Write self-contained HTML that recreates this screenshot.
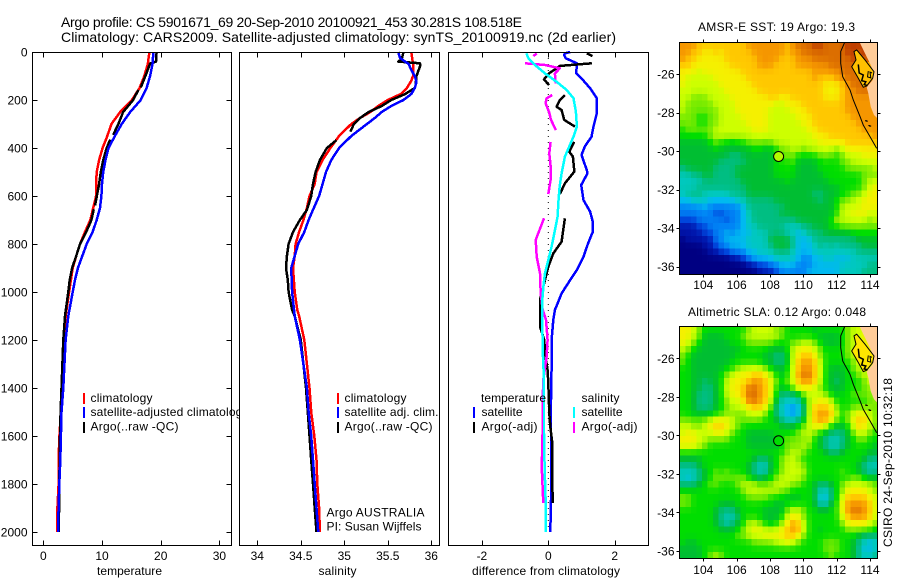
<!DOCTYPE html>
<html lang="en">
<head>
<meta charset="utf-8">
<title>Argo profile 5901671_69</title>
<style>
html,body{margin:0;padding:0;background:#fff;}
body{width:900px;height:580px;overflow:hidden;}
svg{display:block;font-family:"Liberation Sans",Arial,sans-serif;font-size:12px;fill:#000;}
</style>
</head>
<body>
<svg id="chart" xmlns="http://www.w3.org/2000/svg" width="900" height="580" viewBox="0 0 900 580">
  <defs>
    <clipPath id="clip-sst"><rect x="680" y="42" width="198" height="232"/></clipPath>
    <clipPath id="clip-sla"><rect x="680" y="326" width="198" height="232"/></clipPath>
    <clipPath id="clip-p1"><rect x="32" y="52" width="207" height="494"/></clipPath>
  </defs>
  <rect width="900" height="580" fill="#fff"/>
  <g id="layer-temp"></g>
  <g id="layer-sal"></g>
  <g id="layer-diff"></g>
  <g id="layer-sst"></g>
  <g id="layer-sla"></g>

  <text x="61" y="27" font-size="14" textLength="461" lengthAdjust="spacing">Argo profile: CS 5901671_69 20-Sep-2010 20100921_453 30.281S 108.518E</text>
  <text x="61" y="42" font-size="14" textLength="555" lengthAdjust="spacing">Climatology: CARS2009. Satellite-adjusted climatology: synTS_20100919.nc (2d earlier)</text>

  <g clip-path="url(#clip-p1)">
    <rect x="83" y="393" width="2" height="11" fill="#f00"/>
    <text x="90.5" y="402" textLength="62">climatology</text>
    <rect x="83" y="407" width="2" height="11" fill="#00f"/>
    <text x="90.5" y="416" textLength="158">satellite-adjusted climatology</text>
    <rect x="83" y="422" width="2" height="11" fill="#000"/>
    <text x="90.5" y="430.5" textLength="88">Argo(..raw -QC)</text>
  </g>
  <g>
    <rect x="337" y="393" width="2" height="11" fill="#f00"/>
    <text x="344.5" y="402" textLength="62">climatology</text>
    <rect x="337" y="407" width="2" height="11" fill="#00f"/>
    <text x="344.5" y="416" textLength="94">satellite adj. clim.</text>
    <rect x="337" y="422" width="2" height="11" fill="#000"/>
    <text x="344.5" y="430.5" textLength="88">Argo(..raw -QC)</text>
    <text x="326.5" y="516.5" textLength="98">Argo AUSTRALIA</text>
    <text x="326.5" y="530.5" textLength="95">PI: Susan Wijffels</text>
  </g>
  <g>
    <text x="481" y="402" textLength="65">temperature</text>
    <rect x="473" y="407" width="2" height="11" fill="#00f"/>
    <text x="481.5" y="416" textLength="41">satellite</text>
    <rect x="473" y="422" width="2" height="11" fill="#000"/>
    <text x="481.5" y="430.5" textLength="56">Argo(-adj)</text>
    <text x="581.5" y="402" textLength="38">salinity</text>
    <rect x="573" y="407" width="2" height="11" fill="#0ff"/>
    <text x="581.5" y="416" textLength="41">satellite</text>
    <rect x="573" y="422" width="2" height="11" fill="#f0f"/>
    <text x="581.5" y="430.5" textLength="56">Argo(-adj)</text>
  </g>

  <text x="97" y="575" textLength="65">temperature</text>
  <text x="318.5" y="575" textLength="38">salinity</text>
  <text x="472" y="575" textLength="148">difference from climatology</text>

  <text x="698" y="31" textLength="157">AMSR-E SST: 19 Argo: 19.3</text>
  <text x="688" y="316" textLength="178">Altimetric SLA: 0.12 Argo: 0.048</text>
  <text transform="translate(892 547) rotate(-90)" textLength="169">CSIRO 24-Sep-2010 10:32:18</text>
</svg>

<script>
/* ---------- profile data (depth in m) ---------- */
const tempDepths = [0,50,100,150,200,250,300,350,400,450,500,550,600,650,700,750,800,850,900,950,1000,1100,1200,1400,1500,1600,1700,1800,1900,2000];
const tempClim = [18.07,17.8,17.2,16.4,15.1,13.1,11.6,10.9,10.1,9.5,9.1,9,9,8.5,8,7.1,6.25,5.6,5,4.7,4.4,3.8,3.6,3.1,3,2.75,2.6,2.6,2.4,2.4];
const tempSat = [18.75,18.6,18.2,17.6,16.6,14.8,13.35,12.2,11.1,10.6,10.2,10,9.9,9.66,9.1,8.4,7.4,6.65,5.9,5.4,5,4.26,3.8,3.4,3.1,3,2.9,2.73,2.6,2.5];
const tempArgoDepths = [0,40,48,100,148,null,158,200,250,300,345,null,365,400,450,500,550,590,640,null,655,700,750,800,850,900,950,1000,1100,1200,1400,1500,1600,1800,1900,2000];
const tempArgo = [19.3,19.2,18.2,17.4,16.6,null,16.2,15.3,13.6,12.8,11.9,null,11.4,10.8,10.2,9.8,9.5,9.2,8.8,null,8.6,8.2,7.3,6.25,5.6,4.9,4.5,4.26,3.7,3.4,3.1,2.95,2.84,2.72,2.7,2.6];

const salClimDepths = [0,50,100,120,150,175,200,225,250,275,300,350,400,450,500,550,600,650,700,750,800,850,900,1000,1075,1100,1200,1300,1400,1500,1600,1700,1800,1900,2000];
const salClim = [35.77,35.79,35.79,35.77,35.72,35.65,35.5,35.39,35.3,35.18,35.08,34.94,34.84,34.75,34.68,34.66,34.6,34.57,34.53,34.48,34.44,34.43,34.41,34.43,34.46,34.48,34.54,34.57,34.6,34.62,34.655,34.68,34.69,34.71,34.72];
const salSatDepths = [0,25,50,75,100,125,150,175,200,225,250,275,300,350,400,450,500,550,600,650,700,750,800,850,900,1000,1100,1200,1300,1400,1500,1600,1700,1800,1900,2000];
const salSat = [35.62,35.64,35.74,35.77,35.81,35.83,35.81,35.77,35.68,35.54,35.43,35.35,35.26,35.08,34.94,34.85,34.79,34.75,34.71,34.65,34.59,34.54,34.47,34.43,34.39,34.40,34.43,34.49,34.53,34.57,34.59,34.62,34.64,34.66,34.68,34.70];
const salArgoDepths = [0,30,40,47,60,70,100,138,null,150,175,200,225,250,275,300,332,null,367,400,450,500,550,600,658,700,750,800,850,900,950,1000,1075,1100,1200,1300,1400,1500,1600,1700,1800,1900,2000];
const salArgo = [35.68,35.66,35.62,35.87,35.87,35.86,35.83,35.82,null,35.81,35.7,35.54,35.43,35.28,35.18,35.11,35.07,null,34.91,34.8,34.72,34.67,34.64,34.62,34.57,34.49,34.41,34.36,34.34,34.33,34.35,34.36,34.4,34.43,34.5,34.53,34.56,34.58,34.6,34.62,34.64,34.66,34.68];

const diffTempSatDepths = [0,6,12,26,47,89,110,151,193,256,311,353,394,429,492,506,554,617,665,707,749,797,853,908,950,1006,1075,1116,1200,1311,1450,1589,1727,1866,2000];
const diffTempSat = [.66,.5,.48,.52,.86,.84,1,1.26,1.46,1.46,1.36,1.3,1.1,1,1.16,1.18,.99,1.06,1.26,1.34,1.34,1.2,1.06,.86,.66,.4,.2,.15,.1,.1,.08,.08,.08,.08,.06];
const diffTempArgoDepths = [6,17,null,47,58,89,114,138,null,179,200,228,242,283,311,null,374,415,436,492,499,547,592,null,693,742,790,839,894,950,1033,1144,1200,1255,1325,1380,1505,1561,1630,1727,1880];
const diffTempArgo = [1.16,1.33,null,1.31,.35,.02,-.13,.02,null,.5,.35,.25,.4,.48,.8,null,.78,.63,.74,.78,.78,.5,.35,null,.5,.45,.4,.15,0,-.1,-.25,-.25,-.12,-.1,-.02,0,.03,.06,.12,.12,.13];
const diffSalArgoDepths = [6,17,null,47,54,68,89,131,null,179,193,214,249,283,325,null,374,422,492,533,592,null,693,783,853,922,1006,1075,1116,1200,1269,1366,1450,1547,1644,1727,1880];
const diffSalArgo = [-.35,-.45,null,-.7,-.1,.35,.2,.22,null,.12,-.05,-.08,.02,.08,.23,null,.07,.03,.08,.07,0,null,-.13,-.38,-.35,-.25,-.23,-.17,-.07,-.02,-.05,-.15,-.17,-.17,-.18,-.2,-.15];
const diffSalSatDepths = [6,26,54,89,124,158,193,249,311,353,394,436,506,561,631,686,756,811,867,922,964,1033,1116,1241,1339,1450,1589,1727,1866,2000];
const diffSalSat = [-.66,-.6,-.4,-.1,.25,.55,.76,.83,.86,.76,.63,.5,.4,.34,.3,.28,.18,.1,0,-.1,-.14,-.18,-.18,-.17,-.14,-.13,-.13,-.11,-.08,-.07];

/* ---------- tick labels ---------- */
const depthTicks = [0,200,400,600,800,1000,1200,1400,1600,1800,2000];
const tempTicks = [0,10,20,30];
const salTicks = [34,34.5,35,35.5,36];
const diffTicks = [-2,0,2];
const lonTicks = [104,106,108,110,112,114];
const latTicks = [-26,-28,-30,-32,-34,-36];

/* ---------- map observations ---------- */
const floatLon = 108.518;
const floatLat = -30.281;
const sstFloatLevel = 9.7;
const slaFloatLevel = 8;
const landLon = [113.36,113.7,114,114.24,114.16,113.8,113.9,114.04,114.24,114.44,114.6,114.6];
const landLat = [-24.32,-24.93,-25.45,-25.97,-26.31,-26.69,-27,-27.7,-28.13,-28.3,-28.3,-24.3];
const contourLon = [112.5,112.24,112.24,112.36,112.8,113,113.4,113.6,114,114.4];
const contourLat = [-24.32,-24.84,-25.45,-26.14,-26.83,-27.35,-28.2,-28.65,-29.25,-29.86];
const bayLon = [113.04,113.2,113.7,114.24,114.16,113.8,113.6,113.3,112.9,113.16];
const bayLat = [-24.84,-24.75,-25.27,-25.88,-26.22,-26.62,-26.69,-26.22,-25.62,-25.27];
const bayLineALon = [113.3,113.35,113.6,113.5,113.75,113.65,113.85];
const bayLineALat = [-25.5,-25.95,-26.05,-26.35,-26.4,-26.55,-26.6];
const bayLineBLon = [113.9,113.85,114.05,114,114.12];
const bayLineBLat = [-25.85,-26.15,-26.2,-25.9,-25.95];
const islandLon = [113.7,113.75,113.9,113.95];
const islandLat = [-28.4,-28.42,-28.65,-28.68];

const sstRows = [
[13,13,13,12,12,12,12,12,12,12,12,12,13,13,13,13,13,13,13,12,13,14,14,14,15,15,14,14,14,14,15,15,15,15,15,15],
[13,13,12,12,11,11,12,11,12,12,12,12,12,13,13,13,13,13,13,12,13,13,14,14,14,14,14,14,14,14,15,15,14,15,15,15],
[13,12,12,11,11,11,11,11,12,12,12,12,12,12,13,13,13,13,12,12,12,13,13,13,14,14,14,14,14,14,14,15,15,15,15,15],
[12,12,11,11,11,11,11,11,11,12,12,12,12,12,13,13,13,12,12,12,12,13,13,13,13,13,13,14,14,14,14,14,14,12,12,12],
[11,11,11,10,11,11,11,11,11,11,11,12,12,12,12,12,12,12,12,12,12,12,12,12,13,13,13,13,13,14,14,14,14,12,12,12],
[11,10,10,10,10,10,11,11,11,11,11,11,12,12,12,12,12,12,12,12,12,12,12,12,13,12,12,12,13,13,14,14,14,14,13,13],
[11,10,10,10,10,10,10,11,11,11,11,11,11,12,12,12,12,12,12,12,12,12,12,12,12,12,11,11,11,12,13,14,14,14,14,14],
[10,10,10,10,10,10,10,10,11,11,11,11,11,11,12,12,12,12,12,12,12,12,12,12,12,12,11,11,11,12,13,13,14,14,14,14],
[10,10,9,9,9,10,10,10,10,11,11,11,11,11,11,11,12,12,11,11,12,12,12,12,12,12,11,11,11,12,13,13,13,13,13,13],
[10,9,9,9,9,9,10,10,10,10,11,11,11,11,11,11,11,10,10,11,11,11,12,12,12,12,12,12,12,12,13,13,13,13,13,13],
[10,9,9,9,9,9,9,10,10,10,11,11,11,11,11,11,10,10,10,10,11,11,11,12,12,12,12,12,12,12,13,13,13,13,13,13],
[9,9,9,8,8,9,9,10,10,10,10,11,11,11,11,11,10,10,10,10,10,11,11,11,12,12,12,12,12,12,12,13,13,13,13,13],
[9,9,9,8,8,9,9,10,10,10,10,10,11,11,11,11,10,10,10,10,10,10,11,11,12,12,12,12,12,12,12,12,13,13,13,13],
[8,9,9,9,9,9,10,10,10,10,10,10,10,11,11,11,10,10,10,10,10,10,10,11,11,12,12,12,12,12,12,12,12,13,13,13],
[8,8,8,8,8,9,10,10,10,10,10,10,10,10,10,10,10,10,10,10,10,10,10,10,11,11,11,12,12,12,12,12,12,12,12,13],
[7,7,7,7,7,8,9,8,8,7,8,8,9,9,9,9,9,10,10,10,10,10,10,10,10,11,11,11,11,11,12,12,12,12,12,12],
[7,7,7,7,7,7,8,7,7,7,7,7,7,8,8,7,7,8,9,9,10,10,9,10,10,10,10,10,9,10,11,11,11,11,11,11],
[7,7,7,7,7,7,7,7,7,6,6,7,7,7,7,7,7,8,9,9,9,8,8,8,8,9,9,9,8,9,10,10,10,11,11,11],
[7,7,7,7,7,7,7,6,6,6,6,6,7,7,7,7,7,8,8,8,9,7,7,7,7,8,8,8,8,9,9,10,10,10,10,10],
[6,7,7,7,7,7,6,6,6,6,7,7,7,7,7,7,7,8,8,8,8,7,7,7,7,8,8,8,8,8,9,9,9,9,9,10],
[5,5,6,6,7,7,6,6,6,6,7,7,7,7,7,7,7,8,8,8,8,7,7,7,7,7,8,8,8,8,8,8,8,9,9,9],
[5,5,5,5,6,6,6,6,6,6,6,7,7,7,7,7,7,7,7,8,7,7,7,7,7,7,7,8,8,8,8,8,8,9,10,10],
[5,5,5,6,6,6,6,6,6,6,6,6,7,7,7,7,7,7,7,7,7,7,7,7,7,7,7,7,7,8,8,8,8,9,10,11],
[5,6,6,6,5,5,5,5,5,6,6,6,7,7,7,7,7,7,7,7,7,7,7,7,6,6,7,7,7,8,8,9,9,10,11,11],
[4,4,5,5,5,4,4,4,4,4,5,5,6,6,6,6,6,7,7,7,7,7,7,7,7,6,7,7,8,9,9,10,10,11,11,11],
[3,3,3,3,4,3,3,3,3,3,3,4,6,6,6,6,6,6,6,7,7,7,7,7,7,7,7,7,8,10,10,10,10,11,11,11],
[3,3,3,3,3,3,2,2,3,3,3,4,5,6,6,6,6,6,7,7,7,7,7,7,7,7,7,7,8,10,10,11,11,11,10,10],
[2,2,2,3,3,3,3,3,2,3,3,4,5,6,6,6,6,6,6,6,6,7,7,7,7,7,7,8,10,10,10,10,10,10,9,10],
[1,1,1,2,2,3,3,3,3,3,3,4,5,5,6,6,6,6,6,5,5,5,6,6,7,7,7,8,8,9,9,9,9,9,9,9],
[1,1,1,1,2,2,3,3,4,3,4,4,4,5,5,5,6,6,6,5,5,4,5,6,6,6,7,7,7,7,7,8,8,8,8,8],
[0,1,1,1,1,1,3,3,4,4,4,4,5,5,5,5,7,7,7,7,6,4,4,4,6,6,6,6,6,6,6,6,7,7,7,7],
[0,0,0,0,1,1,2,3,3,4,4,4,5,5,5,5,6,7,7,7,6,4,4,4,5,6,5,6,5,6,6,6,6,7,7,7],
[0,0,0,0,0,1,1,2,2,3,3,3,4,4,5,5,5,6,6,6,5,4,4,4,5,5,5,5,5,5,5,5,6,6,6,6],
[0,0,0,0,0,0,0,0,0,1,1,2,3,4,4,4,4,5,5,5,5,4,3,3,4,4,5,5,4,4,4,5,5,5,5,5],
[0,0,0,0,0,0,0,0,0,0,0,0,1,1,2,2,3,3,4,4,4,3,3,3,4,4,4,4,4,5,5,5,5,5,6,6],
[0,0,0,0,0,0,0,0,0,0,0,0,0,0,1,1,1,2,3,3,3,3,3,4,4,4,4,4,4,5,5,5,5,6,6,6]
];

const slaRows = [
[11,11,10,9,8,8,8,8,8,8,8,8,9,10,10,10,10,9,9,8,8,8,8,8,7,8,8,8,8,8,9,10,10,10,10,10],
[11,11,10,9,7,7,7,7,8,8,8,9,10,10,10,10,10,10,9,8,8,8,8,8,8,7,7,7,7,8,9,10,10,11,11,11],
[11,10,9,8,7,7,7,7,7,8,8,8,9,9,9,9,9,8,8,8,9,9,10,10,9,8,7,7,7,8,9,10,10,11,11,11],
[10,9,8,7,7,7,7,7,7,7,7,8,8,8,8,8,7,7,7,8,10,11,11,11,10,9,8,8,8,8,9,10,10,11,11,11],
[9,8,7,7,7,7,7,7,7,7,8,8,8,8,8,7,7,6,6,7,10,11,12,12,11,9,8,8,8,8,9,10,10,11,11,11],
[9,8,7,7,7,7,7,7,7,8,8,8,8,8,8,7,7,6,6,7,10,12,13,13,12,10,8,8,8,8,8,9,10,10,11,11],
[8,8,7,7,7,7,7,7,8,8,9,10,10,10,10,9,8,7,7,8,10,12,13,13,12,10,8,7,7,7,8,9,10,10,10,11],
[8,8,7,7,7,7,7,8,9,10,11,11,11,12,12,11,10,8,7,8,10,13,14,14,12,10,8,7,7,7,8,8,9,10,10,10],
[8,8,7,7,6,7,7,8,10,11,11,11,12,13,13,12,11,9,8,9,10,12,13,13,12,10,8,7,6,7,8,8,8,9,10,10],
[8,8,7,7,6,6,7,8,10,11,11,12,14,14,13,12,11,8,7,8,9,11,11,11,10,9,8,7,7,7,8,8,8,9,9,10],
[8,8,7,6,6,6,7,8,10,11,11,12,14,14,13,12,11,8,6,6,6,7,9,10,10,10,9,8,7,8,8,9,9,9,9,10],
[8,8,7,6,6,6,7,8,9,10,10,11,14,14,13,12,10,7,5,5,5,5,7,10,10,11,11,10,8,8,8,8,8,8,9,9],
[8,8,7,6,6,6,7,8,9,10,10,10,11,12,12,11,9,6,5,4,3,4,6,10,12,12,12,11,9,8,8,9,9,9,9,9],
[8,8,7,7,7,7,8,8,9,9,9,9,10,10,10,9,8,6,5,4,3,4,6,10,12,13,13,12,10,8,9,10,11,11,10,9],
[9,9,9,9,9,10,11,11,11,10,9,9,9,9,9,8,8,7,6,5,5,6,7,10,12,13,13,11,9,8,9,11,12,12,10,9],
[10,10,9,9,10,11,12,12,11,10,9,8,8,8,8,8,8,8,7,7,7,8,9,10,11,11,10,8,7,7,8,10,12,11,10,9],
[10,11,11,10,10,10,11,11,10,9,8,8,7,7,7,7,7,8,8,8,8,9,10,10,9,8,7,6,6,6,7,9,10,10,9,8],
[11,11,11,10,10,9,9,9,9,8,8,8,7,7,7,7,7,7,8,9,9,9,9,10,8,7,6,5,5,6,7,8,9,9,8,8],
[11,11,11,10,9,8,8,8,8,8,8,8,7,7,7,7,7,7,8,9,9,9,10,9,8,7,6,5,5,6,7,8,8,8,8,7],
[8,8,8,8,8,8,8,8,8,8,8,8,8,8,8,8,8,8,8,9,10,10,9,8,8,8,7,6,6,7,8,8,8,8,7,7],
[7,7,7,7,8,8,8,8,8,8,8,8,8,7,6,6,7,8,9,10,10,9,8,8,8,8,8,8,8,8,8,8,8,7,6,6],
[6,6,6,7,8,8,8,8,8,8,8,8,7,6,5,5,7,8,9,10,10,10,9,8,8,8,8,8,8,8,8,8,7,6,5,5],
[5,5,5,6,7,8,9,8,9,8,8,8,7,6,5,5,7,8,9,10,10,10,10,8,8,8,8,8,8,9,8,8,7,6,5,6],
[5,4,5,6,7,8,9,9,9,9,9,9,8,7,6,7,8,9,10,10,10,10,9,8,8,8,8,8,8,8,8,9,9,8,7,7],
[6,6,6,7,8,9,9,8,8,8,9,10,10,10,9,9,9,10,10,10,9,9,8,8,7,6,6,7,8,9,10,10,10,10,10,9],
[8,8,8,8,8,8,8,8,8,8,8,9,10,10,10,10,10,10,9,9,8,8,8,8,7,5,5,6,8,9,11,11,11,11,10,9],
[9,9,8,8,8,8,8,8,8,8,8,8,9,9,9,9,8,8,8,7,7,7,8,8,7,4,4,6,8,10,12,12,12,12,11,10],
[9,9,8,8,8,8,8,7,7,7,8,8,8,8,8,8,8,7,7,8,8,8,8,8,7,5,5,7,8,11,13,13,13,13,12,10],
[8,8,8,8,8,8,7,6,6,6,7,8,8,8,8,7,7,7,7,9,10,10,9,8,8,7,7,8,8,11,13,14,14,13,12,10],
[8,8,8,8,8,8,7,6,5,5,6,8,8,8,8,7,7,7,8,10,11,11,9,8,8,8,8,8,8,10,12,13,13,13,12,10],
[8,8,8,8,8,8,7,6,5,6,7,8,10,10,9,8,7,8,9,11,13,12,10,8,8,8,8,8,8,9,11,11,11,11,10,9],
[8,8,8,8,8,8,8,7,7,7,8,9,10,11,11,10,10,10,11,12,13,13,10,8,8,7,8,8,8,8,9,9,9,9,9,8],
[8,8,8,8,8,8,8,8,8,8,9,9,10,10,10,11,11,11,11,12,12,11,9,8,8,8,8,8,8,8,8,8,7,6,6,6],
[8,7,7,8,8,8,8,8,8,8,8,8,8,9,9,9,9,10,10,11,10,9,8,8,8,8,9,9,9,8,8,7,6,5,4,5],
[7,7,7,7,8,8,8,8,8,8,8,8,8,8,8,8,8,8,8,8,8,8,8,8,8,8,9,9,9,8,8,7,6,4,4,5],
[7,7,7,7,8,9,10,9,8,8,8,8,8,8,8,8,8,8,8,8,8,8,8,8,8,8,8,9,8,8,8,7,6,5,5,6]
];

/* ---------- drawing ---------- */
const NS = 'http://www.w3.org/2000/svg';
const palette = [[0,0,130],[0,20,170],[0,70,220],[0,130,245],[0,185,240],[0,200,190],[0,190,130],[0,190,50],[0,222,0],[120,235,0],[205,255,0],[245,240,0],[255,200,0],[245,150,0],[220,110,0],[190,60,0]];
function heatColor(v){
  const t = Math.max(0, Math.min(palette.length - 1, v));
  const lo = Math.floor(t);
  const hi = Math.min(palette.length - 1, lo + 1);
  const f = t - lo;
  const c = [0,1,2].map(function(i){ return Math.round(palette[lo][i] + (palette[hi][i] - palette[lo][i]) * f); });
  return 'rgb(' + c.join(',') + ')';
}
/* light display filter so neighbouring cells shade into one another */
function softened(rows, r, c){
  let sum = 0, wt = 0;
  for (let dr = -1; dr <= 1; dr++) {
    for (let dc = -1; dc <= 1; dc++) {
      const row = rows[r + dr];
      if (!row || row[c + dc] === undefined) continue;
      const w = (dr === 0 && dc === 0) ? 4 : (dr === 0 || dc === 0) ? 1 : 0.5;
      sum += row[c + dc] * w;
      wt += w;
    }
  }
  return sum / wt;
}
function make(parent, tag, attrs){
  const el = document.createElementNS(NS, tag);
  for (const k in attrs) el.setAttribute(k, attrs[k]);
  parent.appendChild(el);
  return el;
}
const depthY = d => 52 + d * 0.24;
const tempX = v => 43.3 + v * 5.87;
const salX = v => 257.3 + (v - 34) * 87;
const diffX = v => 548.3 + v * 33.2;
const lonX = v => 703.3 + (v - 104) * 16.67;
const latYsst = v => 74 - (v + 26) * 19.27;
const latYsla = v => 358.3 - (v + 26) * 19.27;

function drawSeries(parent, depths, values, xFn, color, name){
  let d = '';
  let pen = false;
  depths.forEach(function(dep, i){
    const v = values[i];
    if (dep === null || v === null || v === undefined) { pen = false; return; }
    d += (pen ? 'L' : 'M') + xFn(v).toFixed(1) + ' ' + depthY(dep).toFixed(1);
    pen = true;
  });
  const el = make(parent, 'path', {d: d, fill: 'none', stroke: color, 'stroke-width': 2.5, 'stroke-linejoin': 'round', 'shape-rendering': 'crispEdges'});
  
  
}

function drawPanel(parent, left, right, xFn, xTicks, showDepth, name){
  const top = 52.5, bottom = 545.5;
  const bg = make(parent, 'rect', {x: left, y: top, width: right - left, height: bottom - top, fill: '#fff'});
  
  
  xTicks.forEach(function(t){
    const x = Math.round(xFn(t)) + 0.5;
    const tk = make(parent, 'path', {d: 'M' + x + ' ' + top + 'v5M' + x + ' ' + bottom + 'v-5', stroke: '#000', fill: 'none'});
    
    
    const lb = make(parent, 'text', {x: xFn(t), y: 560, 'text-anchor': 'middle'});
    
    
    lb.textContent = String(t);
  });
  if (showDepth) {
    depthTicks.forEach(function(t){
      const y = Math.round(depthY(t)) + 0.5;
      const tk = make(parent, 'path', {d: 'M' + left + ' ' + y + 'h5M' + right + ' ' + y + 'h-5', stroke: '#000', fill: 'none'});
      
      
      const lb = make(parent, 'text', {x: 27.5, y: depthY(t) + 4.5, 'text-anchor': 'end'});
      
      
      lb.textContent = String(t);
    });
  }
}
function drawFrame(parent, left, right, name){
  const fr = make(parent, 'rect', {x: left, y: 52.5, width: right - left, height: 493, fill: 'none', stroke: '#000'});
  
  
}

const tempLayer = document.getElementById('layer-temp');
drawPanel(tempLayer, 32.5, 231.5, tempX, tempTicks, true, 'temperature');
drawSeries(tempLayer, tempDepths, tempClim, tempX, '#f00', 'temperature-climatology-line');
drawSeries(tempLayer, tempArgoDepths, tempArgo, tempX, '#000', 'temperature-argo-line');
drawSeries(tempLayer, tempDepths, tempSat, tempX, '#00f', 'temperature-satellite-line');
drawFrame(tempLayer, 32.5, 231.5, 'temperature');

const salLayer = document.getElementById('layer-sal');
drawPanel(salLayer, 239.5, 439.5, salX, salTicks, false, 'salinity');
drawSeries(salLayer, salClimDepths, salClim, salX, '#f00', 'salinity-climatology-line');
drawSeries(salLayer, salArgoDepths, salArgo, salX, '#000', 'salinity-argo-line');
drawSeries(salLayer, salSatDepths, salSat, salX, '#00f', 'salinity-satellite-line');
drawFrame(salLayer, 239.5, 439.5, 'salinity');

const diffLayer = document.getElementById('layer-diff');
drawPanel(diffLayer, 448.5, 648.5, diffX, diffTicks, false, 'difference');
const zeroLine = make(diffLayer, 'line', {x1: diffX(0), x2: diffX(0), y1: depthY(0), y2: depthY(2000), stroke: '#000', 'stroke-dasharray': '1 5'});


drawSeries(diffLayer, diffTempSatDepths, diffTempSat, diffX, '#00f', 'difference-temperature-satellite-line');
drawSeries(diffLayer, diffTempArgoDepths, diffTempArgo, diffX, '#000', 'difference-temperature-argo-line');
drawSeries(diffLayer, diffSalArgoDepths, diffSalArgo, diffX, '#f0f', 'difference-salinity-argo-line');
drawSeries(diffLayer, diffSalSatDepths, diffSalSat, diffX, '#0ff', 'difference-salinity-satellite-line');
drawFrame(diffLayer, 448.5, 648.5, 'difference');

function polyPoints(lons, lats, yFn){
  return lons.map(function(lon, i){ return lonX(lon).toFixed(1) + ',' + yFn(lats[i]).toFixed(1); }).join(' ');
}

function drawMap(parent, rows, yFn, clipId, top, labelY, floatLevel, name){
  const left = 679.5, right = 877.5, bottom = top + 232;
  const clip = make(parent, 'g', {'clip-path': 'url(#' + clipId + ')'});
  
  
  const cellW = 198 / 36;
  const cellH = 232 / 36;
  rows.forEach(function(row, r){
    row.forEach(function(v, c){
      const cell = make(clip, 'rect', {x: (680 + c * cellW).toFixed(2), y: (top + 0.5 + r * cellH).toFixed(2), width: (cellW + 0.4).toFixed(2), height: (cellH + 0.4).toFixed(2), fill: heatColor(softened(rows, r, c)), 'shape-rendering': 'crispEdges'});
      
      
    });
  });
  const land = make(clip, 'polygon', {points: polyPoints(landLon, landLat, yFn), fill: '#ffcc99'});
  
  
  const bay = make(clip, 'polygon', {points: polyPoints(bayLon, bayLat, yFn), fill: name === 'sst' ? '#ffc000' : '#ffe600', stroke: '#000', 'stroke-width': 1});
  
  
  const lineA = make(clip, 'polyline', {points: polyPoints(bayLineALon, bayLineALat, yFn), fill: 'none', stroke: '#000', 'stroke-width': 1.5});
  
  
  const lineB = make(clip, 'polyline', {points: polyPoints(bayLineBLon, bayLineBLat, yFn), fill: 'none', stroke: '#000', 'stroke-width': 1});
  
  
  const contour = make(clip, 'polyline', {points: polyPoints(contourLon, contourLat, yFn), fill: 'none', stroke: '#000', 'stroke-width': 1});
  
  
  islandLon.forEach(function(lon, i){
    const isl = make(clip, 'rect', {x: lonX(lon), y: yFn(islandLat[i]), width: 2, height: 1, fill: '#000'});
    
    
  });

  const marker = make(parent, 'circle', {cx: lonX(floatLon), cy: yFn(floatLat), r: 5, fill: heatColor(floatLevel), stroke: '#000', 'stroke-width': 1});
  
  

  const fr = make(parent, 'rect', {x: left, y: top + 0.5, width: right - left, height: 232, fill: 'none', stroke: '#000'});
  
  

  lonTicks.forEach(function(t){
    const x = Math.round(lonX(t)) + 0.5;
    const tk = make(parent, 'path', {d: 'M' + x + ' ' + (top + 0.5) + 'v-3M' + x + ' ' + (bottom + 0.5) + 'v3', stroke: '#000', fill: 'none'});
    
    
    const lb = make(parent, 'text', {x: lonX(t), y: labelY, 'text-anchor': 'middle'});
    
    
    lb.textContent = String(t);
  });
  latTicks.forEach(function(t){
    const y = Math.round(yFn(t)) + 0.5;
    const tk = make(parent, 'path', {d: 'M' + left + ' ' + y + 'h-3M' + right + ' ' + y + 'h3', stroke: '#000', fill: 'none'});
    
    
    const lb = make(parent, 'text', {x: 674.5, y: yFn(t) + 4.5, 'text-anchor': 'end'});
    
    
    lb.textContent = String(t);
  });
}

drawMap(document.getElementById('layer-sst'), sstRows, latYsst, 'clip-sst', 42, 289, sstFloatLevel, 'sst');
drawMap(document.getElementById('layer-sla'), slaRows, latYsla, 'clip-sla', 326, 574, slaFloatLevel, 'sla');
</script>
</body>
</html>
